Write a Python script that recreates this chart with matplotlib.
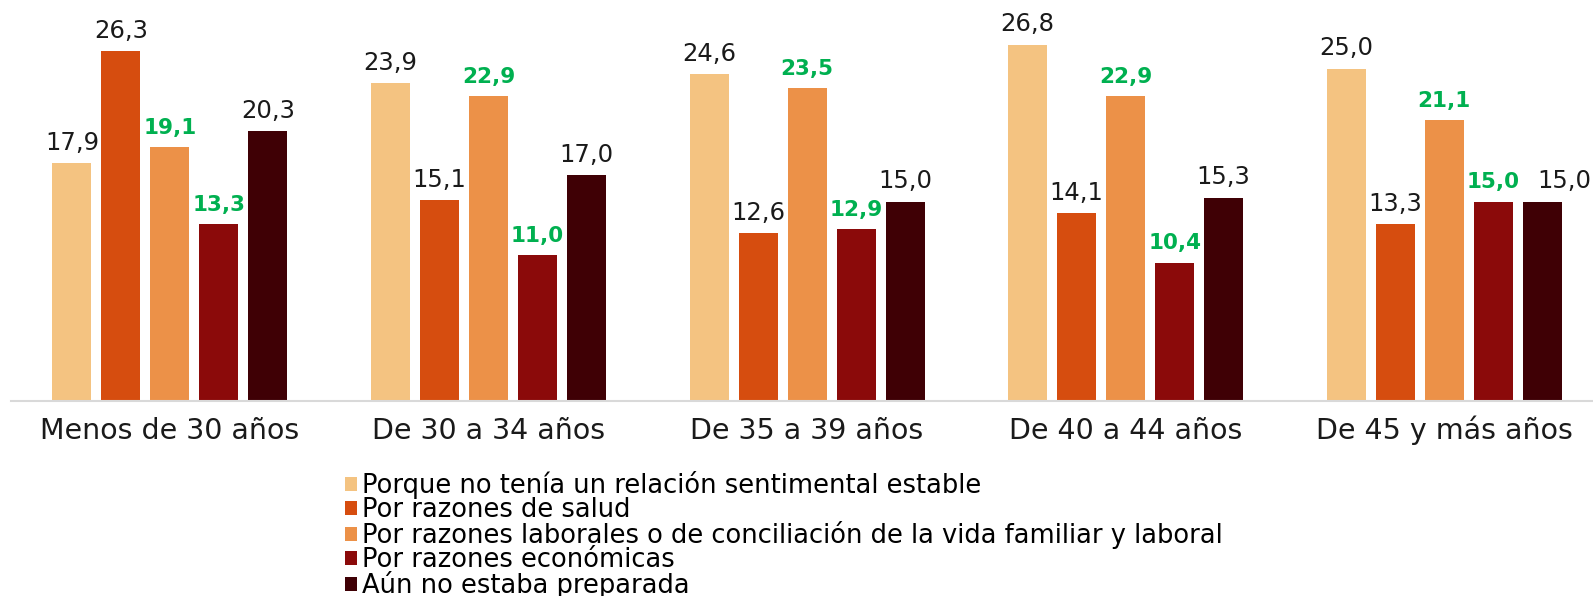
import matplotlib
matplotlib.use("Agg")
import matplotlib.pyplot as plt
import numpy as np

# age groups and reasons (values in %)
categories = ["Menos de 30 años", "De 30 a 34 años", "De 35 a 39 años",
              "De 40 a 44 años", "De 45 y más años"]
series_names = [
    "Porque no tenía un relación sentimental estable",
    "Por razones de salud",
    "Por razones laborales o de conciliación de la vida familiar y laboral",
    "Por razones económicas",
    "Aún no estaba preparada",
]
sentimental = [17.9, 23.9, 24.6, 26.8, 25.0]
salud = [26.3, 15.1, 12.6, 14.1, 13.3]
laborales = [19.1, 22.9, 23.5, 22.9, 21.1]
economicas = [13.3, 11.0, 12.9, 10.4, 15.0]
preparada = [20.3, 17.0, 15.0, 15.3, 15.0]

series = [sentimental, salud, laborales, economicas, preparada]
colors = ["#F4C381", "#D64D0F", "#EC9148", "#8B0A0A", "#3F0005"]
highlight = [False, False, True, True, False]  # green bold labels
GREEN = "#00B050"
# the last label is nudged right in the original to clear its neighbour
nudge = {(4, 4): 16}

plt.rcParams["font.family"] = ["DejaVu Sans"]

W, H = 1593, 596
fig = plt.figure(figsize=(W / 100, H / 100), dpi=100)
ax = fig.add_axes([10.7 / W, (H - 401) / H, 1 - 10.7 / W, 399 / H])

x = np.arange(len(categories))
width = 0.1224
step = 0.1538
offsets = (np.arange(len(series)) - 2) * step

for si, (vals, name, col, hl, off) in enumerate(
        zip(series, series_names, colors, highlight, offsets)):
    bars = ax.bar(x + off, vals, width, color=col, label=name)
    for ci, (b, v) in enumerate(zip(bars, vals)):
        lbl = f"{v:.1f}".replace(".", ",")
        ax.annotate(lbl, (b.get_x() + b.get_width() / 2, v),
                    xytext=(nudge.get((ci, si), 0), 9.5),
                    textcoords="offset points",
                    ha="center", va="baseline",
                    fontsize=15.5 if hl else 17.5,
                    fontweight="bold" if hl else "normal",
                    color=GREEN if hl else "#1a1a1a")

ax.set_xlim(-0.5, 4.467)
ax.set_ylim(0, 30)
ax.set_xticks(x)
ax.set_xticklabels(categories, fontsize=20.5, color="#1a1a1a", va="baseline")
ax.tick_params(axis="x", length=0, pad=27.5)
ax.set_yticks([])
for s in ["top", "right", "left"]:
    ax.spines[s].set_visible(False)
ax.spines["bottom"].set_color("#D9D9D9")
ax.spines["bottom"].set_linewidth(1.5)

fig.legend(loc="upper left", bbox_to_anchor=(345 / W, 1 - 471 / H),
           frameon=False, fontsize=18.5, borderpad=0, borderaxespad=0,
           labelspacing=-0.08, handlelength=0.47, handleheight=0.47,
           handletextpad=0.2)

fig.savefig("out.png", dpi=100)
plt.close(fig)
